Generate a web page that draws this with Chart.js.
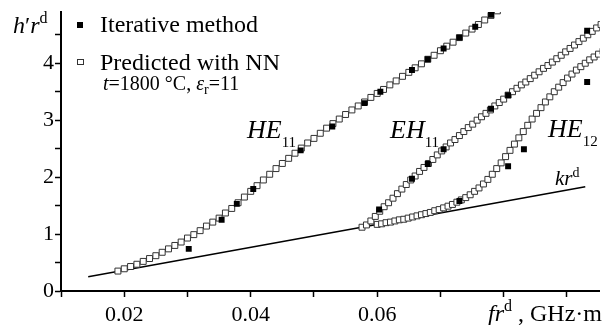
<!DOCTYPE html>
<html>
<head>
<meta charset="utf-8">
<script src="https://cdn.jsdelivr.net/npm/chart.js@4"></script>
<style>
  body { margin: 0; background: #fff; }
</style>
</head>
<body>
<canvas id="chart" width="605" height="325"></canvas>
<script>
// iterative method (filled squares)
const iterHE11x = [0.0302, 0.0354, 0.0378, 0.0404, 0.0479, 0.0529, 0.0580, 0.0605, 0.0655, 0.0680, 0.0705, 0.0730, 0.0755, 0.0780];
const iterHE11y = [0.74, 1.25, 1.53, 1.79, 2.47, 2.89, 3.30, 3.50, 3.88, 4.07, 4.26, 4.45, 4.64, 4.85];
const iterEH11x = [0.0603, 0.0655, 0.0680, 0.0705, 0.0780, 0.0807, 0.0932];
const iterEH11y = [1.43, 1.97, 2.23, 2.49, 3.20, 3.44, 4.57];
const iterHE12x = [0.0730, 0.0807, 0.0832, 0.0932];
const iterHE12y = [1.58, 2.19, 2.49, 3.67];

// predicted with NN (open squares)
const nnHE11x = [0.019, 0.020, 0.021, 0.022, 0.023, 0.024, 0.025, 0.026, 0.027, 0.028, 0.029, 0.030, 0.031, 0.032, 0.033, 0.034, 0.035, 0.036, 0.037, 0.038, 0.039, 0.040, 0.041, 0.042, 0.043, 0.044, 0.045, 0.046, 0.047, 0.048, 0.049, 0.050, 0.051, 0.052, 0.053, 0.054, 0.055, 0.056, 0.057, 0.058, 0.059, 0.060, 0.061, 0.062, 0.063, 0.064, 0.065, 0.066, 0.067, 0.068, 0.069, 0.070, 0.071, 0.072, 0.073, 0.074, 0.075, 0.076, 0.077, 0.078, 0.079];
const nnHE11y = [0.35, 0.39, 0.43, 0.47, 0.52, 0.57, 0.62, 0.68, 0.74, 0.80, 0.86, 0.93, 0.99, 1.06, 1.14, 1.21, 1.28, 1.37, 1.45, 1.55, 1.65, 1.75, 1.85, 1.95, 2.05, 2.15, 2.24, 2.33, 2.42, 2.51, 2.60, 2.68, 2.77, 2.86, 2.94, 3.02, 3.10, 3.18, 3.25, 3.32, 3.40, 3.47, 3.54, 3.62, 3.69, 3.77, 3.84, 3.92, 3.99, 4.07, 4.14, 4.22, 4.30, 4.37, 4.45, 4.53, 4.60, 4.68, 4.76, 4.84, 4.92];

const nnEH11x = [0.0576, 0.0583, 0.0590, 0.0597, 0.0604, 0.0611, 0.0618, 0.0625, 0.0632, 0.0639, 0.0646, 0.0653, 0.0660, 0.0667, 0.0674, 0.0681, 0.0688, 0.0695, 0.0702, 0.0709, 0.0716, 0.0723, 0.0730, 0.0737, 0.0744, 0.0751, 0.0758, 0.0765, 0.0772, 0.0779, 0.0786, 0.0793, 0.0800, 0.0807, 0.0814, 0.0821, 0.0828, 0.0835, 0.0842, 0.0849, 0.0856, 0.0863, 0.0870, 0.0877, 0.0884, 0.0891, 0.0898, 0.0905, 0.0912, 0.0919, 0.0926, 0.0933, 0.0940, 0.0947, 0.0954];
const nnEH11y = [1.12, 1.16, 1.23, 1.31, 1.40, 1.48, 1.55, 1.63, 1.71, 1.79, 1.87, 1.95, 2.02, 2.10, 2.17, 2.24, 2.31, 2.39, 2.46, 2.53, 2.60, 2.66, 2.73, 2.80, 2.87, 2.93, 3.00, 3.06, 3.12, 3.18, 3.25, 3.31, 3.37, 3.44, 3.50, 3.56, 3.62, 3.67, 3.73, 3.79, 3.85, 3.91, 3.96, 4.02, 4.08, 4.14, 4.20, 4.26, 4.32, 4.38, 4.44, 4.50, 4.56, 4.62, 4.68];

const nnHE12x = [0.0600, 0.0607, 0.0614, 0.0621, 0.0628, 0.0635, 0.0642, 0.0649, 0.0656, 0.0663, 0.0670, 0.0677, 0.0684, 0.0691, 0.0698, 0.0705, 0.0712, 0.0719, 0.0726, 0.0733, 0.0740, 0.0747, 0.0754, 0.0761, 0.0768, 0.0775, 0.0782, 0.0789, 0.0796, 0.0803, 0.0810, 0.0817, 0.0824, 0.0831, 0.0838, 0.0845, 0.0852, 0.0859, 0.0866, 0.0873, 0.0880, 0.0887, 0.0894, 0.0901, 0.0908, 0.0915, 0.0922, 0.0929, 0.0936, 0.0943, 0.0950, 0.0957];
const nnHE12y = [1.17, 1.18, 1.20, 1.21, 1.23, 1.25, 1.26, 1.28, 1.30, 1.32, 1.34, 1.36, 1.38, 1.41, 1.43, 1.46, 1.49, 1.52, 1.56, 1.60, 1.64, 1.69, 1.75, 1.81, 1.88, 1.96, 2.05, 2.15, 2.25, 2.36, 2.47, 2.58, 2.69, 2.80, 2.91, 3.02, 3.12, 3.22, 3.32, 3.41, 3.50, 3.58, 3.66, 3.74, 3.81, 3.88, 3.94, 4.00, 4.06, 4.11, 4.16, 4.21];

// kr^d light line
const krX = [0.0143, 0.0929];
const krY = [0.25, 1.83];

// tick labels
const xTickValues = [0.02, 0.04, 0.06];
const xTickLabels = ['0.02', '0.04', '0.06'];
const yTickValues = [0, 1, 2, 3, 4];
const yTickLabels = ['0', '1', '2', '3', '4'];

const serif = "'Liberation Serif', 'Times New Roman', serif";

function pts(xs, ys) {
    return xs.map((x, i) => ({ x: x, y: ys[i] }));
}

// draws pieces of text one after another (for italics, sub/superscripts)
function runs(ctx, x, y, parts) {
    parts.forEach(p => {
        ctx.font = p.f;
        ctx.fillText(p.t, x, y + (p.dy || 0));
        x += ctx.measureText(p.t).width + (p.gap || 0);
    });
}

const filled = { pointStyle: 'rect', pointRadius: 4.2, backgroundColor: '#000', borderWidth: 0, showLine: false, order: 0 };
const open = { pointStyle: 'rect', pointRadius: 4.2, backgroundColor: '#fff', borderColor: '#333', borderWidth: 1, showLine: false, order: 1 };

const textPlugin = {
    id: 'texts',
    afterDraw(chart) {
        const ctx = chart.ctx;
        const xs = chart.scales.x, ys = chart.scales.y;
        ctx.save();
        ctx.fillStyle = '#000';
        ctx.textBaseline = 'alphabetic';

        // tick labels
        ctx.font = '22px ' + serif;
        ctx.textAlign = 'right';
        yTickValues.forEach((v, i) => ctx.fillText(yTickLabels[i], 54, ys.getPixelForValue(v) + 6));
        ctx.textAlign = 'center';
        xTickValues.forEach((v, i) => ctx.fillText(xTickLabels[i], xs.getPixelForValue(v), 321));
        ctx.textAlign = 'left';

        // axis titles
        runs(ctx, 488, 321, [
            { t: 'fr', f: 'italic 24px ' + serif },
            { t: 'd', f: '16px ' + serif, dy: -10 },
            { t: ' , GHz·m', f: '24px ' + serif }
        ]);
        runs(ctx, 13, 33, [
            { t: 'h', f: 'italic 24px ' + serif },
            { t: '′', f: '24px ' + serif },
            { t: 'r', f: 'italic 24px ' + serif },
            { t: 'd', f: '16px ' + serif, dy: -10 }
        ]);

        // legend
        ctx.fillRect(77, 22, 6, 6);
        ctx.strokeStyle = '#333';
        ctx.lineWidth = 1;
        ctx.strokeRect(77.5, 59.5, 6, 5);
        ctx.font = '24px ' + serif;
        ctx.fillText('Iterative method', 100, 32);
        ctx.fillText('Predicted with NN', 100, 70);
        runs(ctx, 103, 90, [
            { t: 't', f: 'italic 20px ' + serif },
            { t: '=1800 °C, ', f: '20px ' + serif },
            { t: 'ε', f: 'italic 20px ' + serif },
            { t: 'r', f: '14px ' + serif, dy: 4 },
            { t: '=11', f: '20px ' + serif }
        ]);

        // curve names
        runs(ctx, 247, 138, [
            { t: 'HE', f: 'italic 26px ' + serif },
            { t: '11', f: '15px ' + serif, dy: 9 }
        ]);
        runs(ctx, 390, 138, [
            { t: 'EH', f: 'italic 26px ' + serif },
            { t: '11', f: '15px ' + serif, dy: 9 }
        ]);
        runs(ctx, 548, 137, [
            { t: 'HE', f: 'italic 26px ' + serif },
            { t: '12', f: '15px ' + serif, dy: 9 }
        ]);
        runs(ctx, 555, 185, [
            { t: 'kr', f: 'italic 21px ' + serif },
            { t: 'd', f: '14px ' + serif, dy: -8 }
        ]);
        ctx.restore();
    }
};

const axisGrid = { drawOnChartArea: false, tickLength: 6, tickWidth: 1.5, tickColor: '#000' };

new Chart(document.getElementById('chart'), {
    type: 'scatter',
    data: {
        datasets: [
            Object.assign({ data: pts(iterHE11x, iterHE11y) }, filled),
            Object.assign({ data: pts(iterEH11x, iterEH11y) }, filled),
            Object.assign({ data: pts(iterHE12x, iterHE12y) }, filled),
            Object.assign({ data: pts(nnHE11x, nnHE11y) }, open),
            Object.assign({ data: pts(nnEH11x, nnEH11y) }, open),
            Object.assign({ data: pts(nnHE12x, nnHE12y) }, open),
            {
                data: pts(krX, krY),
                showLine: true,
                borderColor: '#000',
                borderWidth: 1.5,
                pointRadius: 0,
                order: 2
            }
        ]
    },
    options: {
        responsive: false,
        animation: false,
        devicePixelRatio: 1,
        layout: { padding: { left: 55, right: 1, top: 12, bottom: 28 } },
        plugins: { legend: { display: false }, tooltip: { enabled: false } },
        scales: {
            x: {
                type: 'linear',
                min: 0.01,
                max: 0.0952,
                ticks: { display: false, stepSize: 0.01, includeBounds: false },
                grid: axisGrid,
                border: { color: '#000', width: 2 }
            },
            y: {
                min: 0,
                max: 4.9,
                ticks: { display: false, stepSize: 0.5, includeBounds: false },
                grid: axisGrid,
                border: { color: '#000', width: 2 }
            }
        }
    },
    plugins: [textPlugin]
});
</script>
</body>
</html>
